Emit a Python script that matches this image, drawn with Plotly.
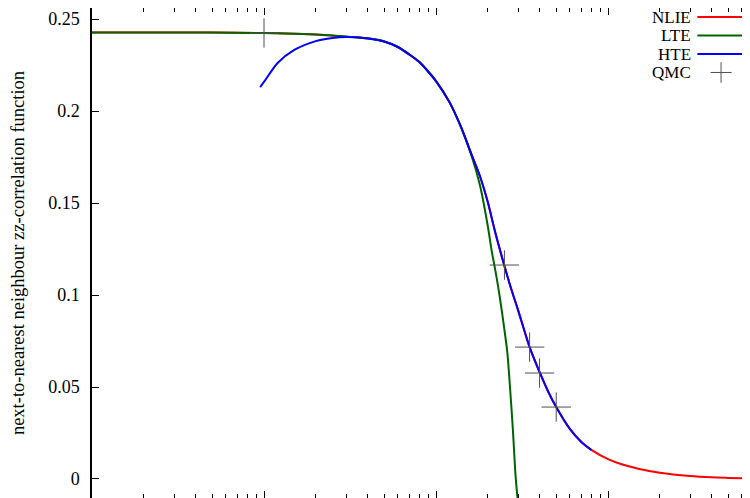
import plotly.graph_objects as go

# temperature grid (log axis) and the three curves
t_nlie = [0.01, 0.02, 0.05, 0.1, 0.15, 0.2, 0.25, 0.3, 0.4, 0.5, 0.6, 0.7, 0.8, 0.9, 1.0,
          1.2, 1.4, 1.6, 1.8, 2.0, 2.2, 2.5, 2.75, 3.0, 3.5, 4.0, 4.5, 5.0, 6.0, 7.0, 8.0,
          10.0, 12.0, 15.0, 20.0, 30.0, 40.0, 50.0, 67.0]
y_nlie = [0.2427, 0.2427, 0.2427, 0.2424, 0.2420, 0.2416, 0.2410, 0.2404, 0.2395, 0.2378,
          0.2348, 0.2307, 0.2266, 0.2215, 0.2163, 0.2047, 0.1912, 0.1770, 0.1647, 0.1505,
          0.1348, 0.1158, 0.1027, 0.0918, 0.0717, 0.0582, 0.0473, 0.0391, 0.0272, 0.0201,
          0.0158, 0.0108, 0.0080, 0.0056, 0.0034, 0.0016, 0.0009, 0.0006, 0.0003]

t_lte = [0.01, 0.02, 0.05, 0.1, 0.15, 0.2, 0.25, 0.3, 0.4, 0.5, 0.6, 0.7, 0.8, 0.9, 1.0,
         1.2, 1.4, 1.6, 1.8, 2.0, 2.1, 2.2, 2.3, 2.4, 2.5, 2.6, 2.7, 2.8, 2.9, 3.0]
y_lte = [0.2427, 0.2427, 0.2427, 0.2424, 0.2420, 0.2416, 0.2411, 0.2405, 0.2395, 0.2378,
         0.2348, 0.2307, 0.2266, 0.2215, 0.2163, 0.2047, 0.1910, 0.1764, 0.1598, 0.1375,
         0.1248, 0.1147, 0.1043, 0.0929, 0.0810, 0.0685, 0.0484, 0.0266, 0.0020, -0.0135]

t_hte = [0.095, 0.1, 0.12, 0.15, 0.2, 0.25, 0.3, 0.4, 0.5, 0.6, 0.7, 0.8, 0.9, 1.0,
         1.2, 1.4, 1.6, 1.8, 2.0, 2.2, 2.5, 2.75, 3.0, 3.5, 4.0, 4.5, 5.0, 6.0, 7.0, 8.0]
y_hte = [0.2130, 0.2158, 0.2261, 0.2332, 0.2380, 0.2397, 0.2402, 0.2394, 0.2378, 0.2348,
         0.2307, 0.2266, 0.2215, 0.2163, 0.2047, 0.1912, 0.1770, 0.1647, 0.1505, 0.1348,
         0.1158, 0.1027, 0.0918, 0.0717, 0.0582, 0.0473, 0.0391, 0.0272, 0.0201, 0.0158]

t_qmc = [0.1, 2.5, 3.5, 4.0, 5.0]
y_qmc = [0.2424, 0.1163, 0.0717, 0.0576, 0.0391]

ytick_vals = [0, 0.05, 0.1, 0.15, 0.2, 0.25]
ytick_text = ['0', '0.05', '0.1', '0.15', '0.2', '0.25']

legend_names = ['NLIE', 'LTE', 'HTE', 'QMC']
legend_colors = ['#ff0000', '#006400', '#0000ff', '#505050']

FONT = 'Liberation Serif, Times New Roman, serif'

fig = go.Figure()
fig.add_trace(go.Scatter(x=t_nlie, y=y_nlie, mode='lines', name='NLIE',
                         line=dict(color=legend_colors[0], width=2, shape='spline', smoothing=0.8)))
fig.add_trace(go.Scatter(x=t_lte, y=y_lte, mode='lines', name='LTE',
                         line=dict(color=legend_colors[1], width=2, shape='spline', smoothing=0.8)))
fig.add_trace(go.Scatter(x=t_hte, y=y_hte, mode='lines', name='HTE',
                         line=dict(color=legend_colors[2], width=2, shape='spline', smoothing=0.8)))
fig.add_trace(go.Scatter(x=t_qmc, y=y_qmc, mode='markers', name='QMC',
                         marker=dict(symbol='cross-thin', size=21,
                                     line=dict(color=legend_colors[3], width=1))))
fig.update_traces(showlegend=False)

# gnuplot-style key: text on the left, sample on the right
row_y = [0.9816, 0.9439, 0.9061, 0.8684]
for name, color, yy in zip(legend_names, legend_colors, row_y):
    fig.add_annotation(x=0.912, y=yy, xref='paper', yref='paper', text=name,
                       showarrow=False, xanchor='right', yanchor='middle', borderpad=0,
                       font=dict(family=FONT, size=17, color='black'))
    if name == 'QMC':
        fig.add_shape(type='line', xref='paper', yref='paper', x0=0.940, x1=0.972, y0=yy, y1=yy,
                      line=dict(color=color, width=1))
        fig.add_shape(type='line', xref='paper', yref='paper', x0=0.956, x1=0.956,
                      y0=yy - 0.021, y1=yy + 0.021, line=dict(color=color, width=1))
    else:
        fig.add_shape(type='line', xref='paper', yref='paper', x0=0.920, x1=0.993, y0=yy, y1=yy,
                      line=dict(color=color, width=2))

fig.update_xaxes(type='log', range=[-2, 1.8256], dtick=1, showticklabels=False,
                 ticks='inside', ticklen=7, tickcolor='black',
                 minor=dict(ticks='inside', ticklen=4, tickcolor='black', dtick='D1', showgrid=False),
                 showline=True, linecolor='black', linewidth=1.5, mirror='ticks',
                 showgrid=False, zeroline=False)
fig.update_yaxes(range=[-0.01033, 0.2560], tickvals=ytick_vals, ticktext=ytick_text,
                 ticks='inside', ticklen=7, tickcolor='black', ticklabelstandoff=7,
                 showline=True, linecolor='black', linewidth=1.5,
                 showgrid=False, zeroline=False,
                 tickfont=dict(family=FONT, size=18, color='black'),
                 title=dict(text='next-to-nearest neighbour zz-correlation function',
                            font=dict(family=FONT, size=18.5, color='black'), standoff=31),
                 automargin=False)

fig.update_layout(width=742, height=490,
                  margin=dict(l=84, r=0, t=0, b=0, autoexpand=False),
                  plot_bgcolor='white', paper_bgcolor='white', showlegend=False,
                  font=dict(family=FONT, size=18, color='black'))

fig.write_html('out.html')
